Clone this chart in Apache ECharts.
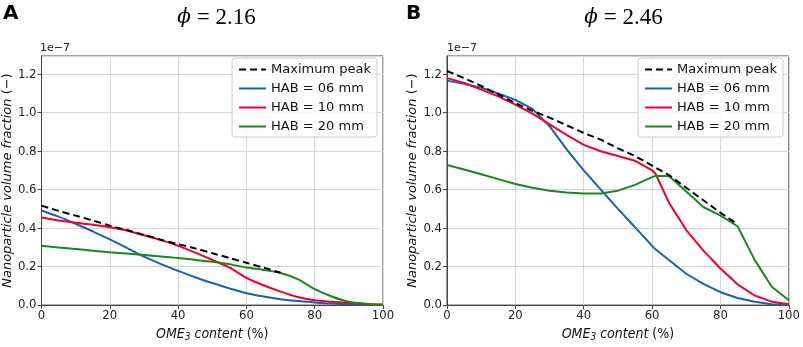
<!DOCTYPE html>
<html>
<head>
<meta charset="utf-8">
<script src="https://cdn.jsdelivr.net/npm/echarts@6/dist/echarts.min.js"></script>
<style>
  html, body { margin: 0; padding: 0; background: #fff; }
  #charts { width: 803px; height: 347px; }
</style>
</head>
<body>
<div id="charts"></div>
<script>
// values are in units of 1e-7
const xA = [0, 5, 10, 15, 20, 25, 30, 35, 40, 45, 50, 55, 60, 65, 70, 75, 80, 85, 90, 95, 100];
const peakA  = [0.517, 0.49, 0.465, 0.44, 0.413, 0.39, 0.365, 0.34, 0.317, 0.295, 0.27, 0.245, 0.22, 0.195, 0.168, null, null, null, null, null, null];
const hab06A = [0.492, 0.46, 0.423, 0.383, 0.342, 0.298, 0.252, 0.213, 0.178, 0.145, 0.115, 0.087, 0.062, 0.045, 0.031, 0.021, 0.014, 0.008, 0.004, 0.002, 0.0];
const hab10A = [0.455, 0.44, 0.428, 0.418, 0.405, 0.388, 0.363, 0.338, 0.308, 0.273, 0.235, 0.196, 0.142, 0.103, 0.07, 0.042, 0.025, 0.017, 0.011, 0.005, 0.002];
const hab20A = [0.308, 0.3, 0.292, 0.283, 0.275, 0.268, 0.261, 0.253, 0.245, 0.235, 0.225, 0.213, 0.195, 0.183, 0.167, 0.135, 0.083, 0.045, 0.017, 0.007, 0.003];

const xB = [0, 5, 10, 15, 20, 25, 30, 35, 40, 45, 50, 55, 60, 61, 65, 70, 75, 80, 85, 90, 95, 100];
const peakB  = [1.217, 1.18, 1.14, 1.095, 1.05, 1.01, 0.975, 0.935, 0.895, 0.86, 0.815, 0.775, 0.725, 0.715, 0.675, 0.61, 0.545, 0.48, 0.42, null, null, null];
const hab06B = [1.167, 1.15, 1.13, 1.1, 1.067, 1.02, 0.93, 0.81, 0.7, 0.6, 0.5, 0.405, 0.308, 0.29, 0.233, 0.163, 0.11, 0.067, 0.037, 0.017, 0.005, 0.0];
const hab10B = [1.18, 1.155, 1.12, 1.085, 1.042, 0.995, 0.94, 0.885, 0.833, 0.8, 0.775, 0.75, 0.7, 0.683, 0.53, 0.39, 0.283, 0.19, 0.108, 0.05, 0.018, 0.005];
const hab20B = [0.728, 0.705, 0.68, 0.655, 0.63, 0.61, 0.595, 0.585, 0.58, 0.58, 0.595, 0.625, 0.665, 0.672, 0.67, 0.59, 0.51, 0.465, 0.41, 0.235, 0.095, 0.025];

const names = ['Maximum peak', 'HAB = 06 mm', 'HAB = 10 mm', 'HAB = 20 mm'];
const colors = ['#000000', '#1462b8', '#f2002a', '#17891a'];
const titles = ['2.16', '2.46'];

const chart = echarts.init(document.getElementById('charts'));

function pairs(xs, ys) {
    const out = [];
    xs.forEach((x, i) => { if (ys[i] !== null) out.push([x, ys[i]]); });
    return out;
}

const tickFont = { fontFamily: 'DejaVu Sans Condensed, DejaVu Sans', fontSize: 13, color: '#222' };
const grids = [
    { left: 40, top: 56, width: 343, height: 259 },
    { left: 447, top: 56, width: 343, height: 259 }
];

function xAxis(i) {
    return {
        type: 'value', gridIndex: i, min: 0, max: 100, interval: 20,
        axisLine: { lineStyle: { color: '#444', width: 1 } },
        axisTick: { show: true, length: 4, lineStyle: { color: '#444' } },
        axisLabel: Object.assign({ margin: 4 }, tickFont),
        splitLine: { show: true, lineStyle: { color: '#d6d6d6', width: 1 } },
        name: '{i|OME}{s|3}{i| content }{n|(%)}',
        nameLocation: 'middle', nameGap: 17,
        nameTextStyle: {
            rich: {
                i: { fontFamily: 'DejaVu Sans Condensed, DejaVu Sans', fontStyle: 'italic', fontSize: 14, color: '#111' },
                n: { fontFamily: 'DejaVu Sans Condensed, DejaVu Sans', fontSize: 14, color: '#111' },
                s: { fontFamily: 'DejaVu Sans Condensed, DejaVu Sans', fontStyle: 'italic', fontSize: 10, color: '#111', verticalAlign: 'bottom', padding: [6, 0, 0, 0] }
            }
        }
    };
}

function yAxis(i) {
    return {
        type: 'value', gridIndex: i, min: 0, max: 1.295, interval: 0.2,
        axisLine: { show: true, lineStyle: { color: '#444', width: 1 } },
        axisTick: { show: true, length: 4, lineStyle: { color: '#444' } },
        axisLabel: Object.assign({ margin: 5, showMaxLabel: false, formatter: v => v.toFixed(1) }, tickFont),
        splitLine: { show: true, lineStyle: { color: '#d6d6d6', width: 1 } },
        name: '{i|Nanoparticle volume fraction }{n|(−)}',
        nameLocation: 'middle', nameGap: 25,
        nameTextStyle: {
            rich: {
                i: { fontFamily: 'DejaVu Sans', fontStyle: 'italic', fontSize: 13, color: '#111' },
                n: { fontFamily: 'DejaVu Sans', fontSize: 13, color: '#111' }
            }
        }
    };
}

function lines(i, xs, arrs) {
    return arrs.map((ys, k) => ({
        name: names[k], type: 'line', xAxisIndex: i, yAxisIndex: i,
        data: pairs(xs, ys), symbol: 'none', smooth: i === 0 ? 0.3 : false,
        z: k === 0 ? 5 : 3,
        lineStyle: { color: colors[k], width: 2, type: k === 0 ? [7, 4] : 'solid' },
        itemStyle: { color: colors[k] }
    }));
}

function legend(right) {
    return {
        data: names, orient: 'vertical', right: right, top: 58,
        itemWidth: 27, itemHeight: 12, itemGap: 6,
        itemStyle: { opacity: 0 },
        backgroundColor: 'rgba(255,255,255,0.85)', borderColor: '#cccccc', borderWidth: 1, borderRadius: 3,
        padding: [5, 6, 4, 6],
        textStyle: { fontFamily: 'DejaVu Sans', fontSize: 13, color: '#111' },
        selectedMode: false
    };
}

const titleOpts = [];
titles.forEach((t, i) => {
    titleOpts.push({
        text: '{p|ϕ}{t| = ' + t + '}',
        left: grids[i].left + grids[i].width / 2, top: 1, textAlign: 'center',
        textStyle: {
            fontWeight: 'normal',
            rich: {
                p: { fontFamily: 'DejaVu Serif', fontStyle: 'italic', fontWeight: 'normal', fontSize: 20, color: '#000' },
                t: { fontFamily: 'Liberation Serif', fontWeight: 'normal', fontSize: 23, color: '#000' }
            }
        }
    });
});

chart.setOption({
    animation: false,
    backgroundColor: '#fff',
    title: titleOpts,
    grid: grids.map(g => Object.assign({ show: true, borderColor: '#444', borderWidth: 1 }, g)),
    xAxis: [xAxis(0), xAxis(1)],
    yAxis: [yAxis(0), yAxis(1)],
    legend: [legend(803 - 377), legend(20)],
    graphic: [
        { type: 'text', left: 3, top: 4, style: { text: 'A', font: 'bold 20px DejaVu Sans', fill: '#000' } },
        { type: 'text', left: 406, top: 4, style: { text: 'B', font: 'bold 20px DejaVu Sans', fill: '#000' } },
        { type: 'text', left: 40, top: 43, style: { text: '1e\u22127', font: '11px DejaVu Sans', fill: '#222' } },
        { type: 'text', left: 447, top: 43, style: { text: '1e\u22127', font: '11px DejaVu Sans', fill: '#222' } }
    ],
    series: lines(0, xA, [peakA, hab06A, hab10A, hab20A]).concat(lines(1, xB, [peakB, hab06B, hab10B, hab20B]))
});
</script>
</body>
</html>
